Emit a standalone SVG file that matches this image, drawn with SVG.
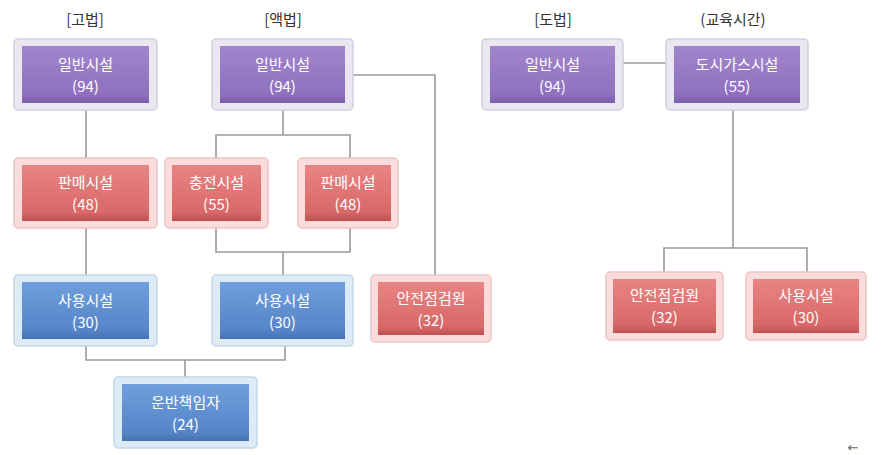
<svg xmlns="http://www.w3.org/2000/svg" width="881" height="455" viewBox="0 0 881 455">
<defs>
<linearGradient id="gp" x1="0" y1="0" x2="0" y2="1"><stop offset="0" stop-color="#a286cc"/><stop offset="0.85" stop-color="#8e70bd"/><stop offset="1" stop-color="#7a5ca8"/></linearGradient>
<linearGradient id="gr" x1="0" y1="0" x2="0" y2="1"><stop offset="0" stop-color="#e88584"/><stop offset="0.85" stop-color="#d86867"/><stop offset="1" stop-color="#c05050"/></linearGradient>
<linearGradient id="gb" x1="0" y1="0" x2="0" y2="1"><stop offset="0" stop-color="#6f9fdc"/><stop offset="0.85" stop-color="#5585c8"/><stop offset="1" stop-color="#4670b0"/></linearGradient>
</defs>
<style>
.fp{fill:#ebe7f1;stroke:#d3cede;stroke-width:1.5}
.fr{fill:#fbdcdc;stroke:#ecc4c4;stroke-width:1.5}
.fb{fill:#dcebf6;stroke:#c4d6e6;stroke-width:1.5}
.ip{fill:url(#gp)}
.ir{fill:url(#gr)}
.ib{fill:url(#gb)}
.t{font-family:"Noto Sans CJK KR","Noto Sans",sans-serif;font-size:15px;fill:#fff;text-anchor:middle}
.h{font-family:"Noto Sans CJK KR","Noto Sans",sans-serif;font-size:15px;fill:#333;text-anchor:middle}
.c{fill:none;stroke:#9a9a9a;stroke-width:1.6}
</style>
<rect width="881" height="455" fill="#fff"/>
<g id="headers">
<text class="h" x="85" y="25">[고법]</text>
<text class="h" x="283" y="25">[액법]</text>
<text class="h" x="553" y="25">[도법]</text>
<text class="h" x="733" y="25">(교육시간)</text>
<text x="853" y="452" font-family="DejaVu Sans,sans-serif" font-size="13" fill="#666" text-anchor="middle">←</text>
</g>
<g id="connectors">
<path class="c" d="M86 110V158M86 228V275"/>
<path class="c" d="M86 346V360H285V346M185 360V377"/>
<path class="c" d="M283 110V135M216 158V135H350V158"/>
<path class="c" d="M216 228V252H350V228M283 252V275"/>
<path class="c" d="M353 75H435V275"/>
<path class="c" d="M623 63H666"/>
<path class="c" d="M733 110V248M664 272V248H807V272"/>
</g>
<g id="n1" transform="translate(14,39)"><rect class="fp" x="0" y="0" width="143" height="71" rx="4"/><rect class="ip" x="8" y="7" width="127" height="57"/><text class="t" x="71.5" y="31">일반시설</text><text class="t" x="71.5" y="53">(94)</text></g>
<g id="n2" transform="translate(212,39)"><rect class="fp" x="0" y="0" width="141" height="71" rx="4"/><rect class="ip" x="8" y="7" width="125" height="57"/><text class="t" x="70.5" y="31">일반시설</text><text class="t" x="70.5" y="53">(94)</text></g>
<g id="n3" transform="translate(482,39)"><rect class="fp" x="0" y="0" width="141" height="71" rx="4"/><rect class="ip" x="8" y="7" width="125" height="57"/><text class="t" x="70.5" y="31">일반시설</text><text class="t" x="70.5" y="53">(94)</text></g>
<g id="n4" transform="translate(666,39)"><rect class="fp" x="0" y="0" width="142" height="71" rx="4"/><rect class="ip" x="8" y="7" width="126" height="57"/><text class="t" x="71" y="31">도시가스시설</text><text class="t" x="71" y="53">(55)</text></g>
<g id="n5" transform="translate(14,158)"><rect class="fr" x="0" y="0" width="143" height="70" rx="4"/><rect class="ir" x="8" y="7" width="127" height="56"/><text class="t" x="71.5" y="30">판매시설</text><text class="t" x="71.5" y="52">(48)</text></g>
<g id="n6" transform="translate(165,158)"><rect class="fr" x="0" y="0" width="103" height="70" rx="4"/><rect class="ir" x="7" y="7" width="89" height="56"/><text class="t" x="51.5" y="30">충전시설</text><text class="t" x="51.5" y="52">(55)</text></g>
<g id="n7" transform="translate(298,158)"><rect class="fr" x="0" y="0" width="100" height="70" rx="4"/><rect class="ir" x="7" y="7" width="86" height="56"/><text class="t" x="50" y="30">판매시설</text><text class="t" x="50" y="52">(48)</text></g>
<g id="n8" transform="translate(14,275)"><rect class="fb" x="0" y="0" width="143" height="71" rx="4"/><rect class="ib" x="8" y="7" width="127" height="57"/><text class="t" x="71.5" y="31">사용시설</text><text class="t" x="71.5" y="53">(30)</text></g>
<g id="n9" transform="translate(212,275)"><rect class="fb" x="0" y="0" width="141" height="71" rx="4"/><rect class="ib" x="8" y="7" width="125" height="57"/><text class="t" x="70.5" y="31">사용시설</text><text class="t" x="70.5" y="53">(30)</text></g>
<g id="n10" transform="translate(371,275)"><rect class="fr" x="0" y="0" width="120" height="67" rx="4"/><rect class="ir" x="7" y="7" width="106" height="53"/><text class="t" x="60" y="29">안전점검원</text><text class="t" x="60" y="51">(32)</text></g>
<g id="n11" transform="translate(114,377)"><rect class="fb" x="0" y="0" width="143" height="71" rx="4"/><rect class="ib" x="8" y="7" width="127" height="57"/><text class="t" x="71.5" y="31">운반책임자</text><text class="t" x="71.5" y="53">(24)</text></g>
<g id="n12" transform="translate(606,272)"><rect class="fr" x="0" y="0" width="117" height="68" rx="4"/><rect class="ir" x="7" y="7" width="103" height="54"/><text class="t" x="58.5" y="29">안전점검원</text><text class="t" x="58.5" y="51">(32)</text></g>
<g id="n13" transform="translate(746,272)"><rect class="fr" x="0" y="0" width="120" height="68" rx="4"/><rect class="ir" x="7" y="7" width="106" height="54"/><text class="t" x="60" y="29">사용시설</text><text class="t" x="60" y="51">(30)</text></g>
</svg>
